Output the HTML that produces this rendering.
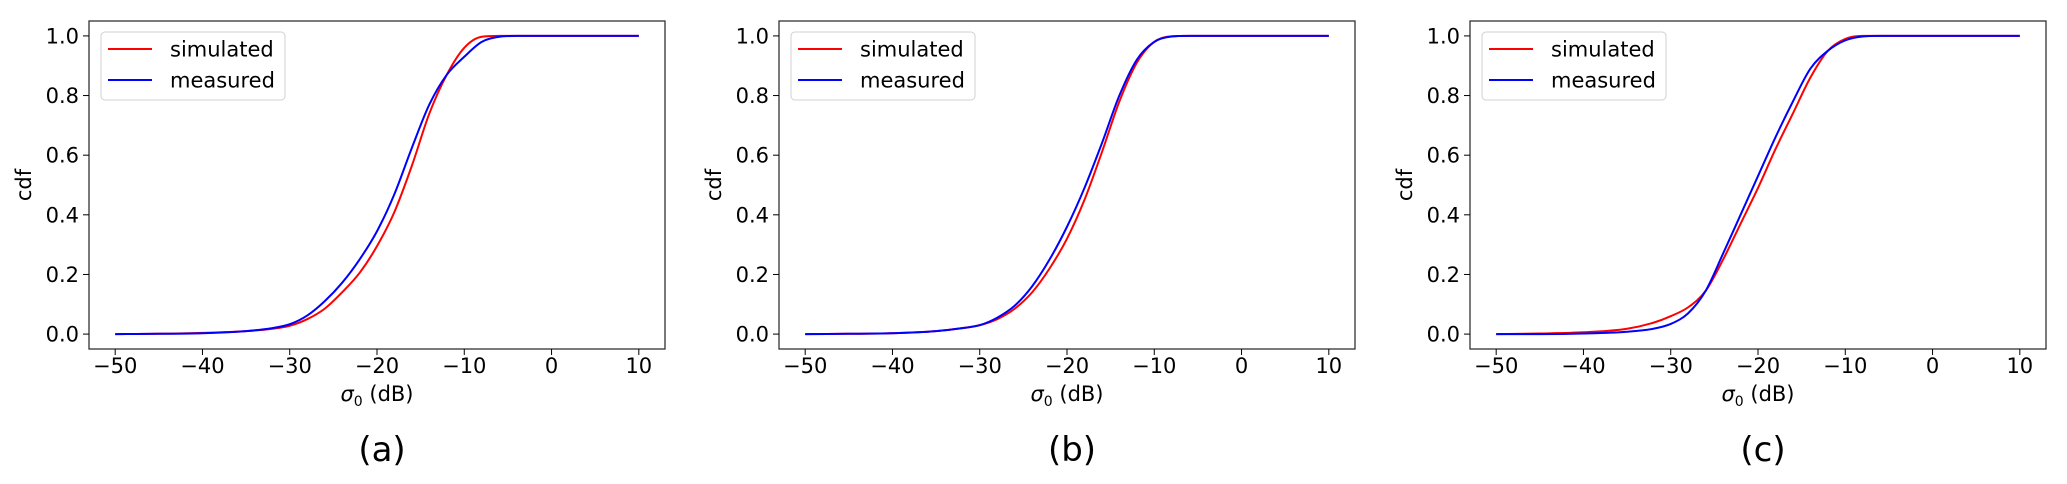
<!DOCTYPE html>
<html><head><meta charset="utf-8"><style>
html,body{margin:0;padding:0;background:#fff;}
svg{display:block;font-family:"DejaVu Sans","Liberation Sans",sans-serif;}
</style></head><body>
<svg id="fig" width="2067" height="484" viewBox="0 0 2067 484" xmlns="http://www.w3.org/2000/svg"></svg>
<script>
const xVals = [-50,-45,-40,-35,-32,-30,-28,-26,-24,-22,-20,-18,-16,-14,-12,-10,-8,-6,-4,0,5,10];
const simA = [0,0.001,0.004,0.01,0.018,0.028,0.05,0.085,0.14,0.205,0.295,0.41,0.565,0.74,0.87,0.96,0.997,1,1,1,1,1];
const measA = [0,0.001,0.003,0.01,0.02,0.033,0.062,0.11,0.172,0.25,0.345,0.47,0.625,0.77,0.87,0.93,0.98,0.997,1,1,1,1];
const simB = [0,0.001,0.003,0.01,0.02,0.03,0.05,0.085,0.14,0.22,0.32,0.45,0.61,0.78,0.91,0.98,0.999,1,1,1,1,1];
const measB = [0,0.001,0.003,0.01,0.02,0.03,0.055,0.095,0.16,0.25,0.36,0.49,0.64,0.80,0.92,0.98,0.998,1,1,1,1,1];
const simC = [0,0.002,0.006,0.018,0.038,0.06,0.09,0.145,0.25,0.37,0.49,0.62,0.74,0.86,0.95,0.99,1,1,1,1,1,1];
const measC = [0,0,0.002,0.008,0.018,0.034,0.07,0.145,0.27,0.40,0.53,0.66,0.78,0.89,0.95,0.985,0.998,1,1,1,1,1];
const xTicks = [-50,-40,-30,-20,-10,0,10];
const xTickLabels = ["\u221250","\u221240","\u221230","\u221220","\u221210","0","10"];
const yTicks = [0,0.2,0.4,0.6,0.8,1.0];
const yTickLabels = ["0.0","0.2","0.4","0.6","0.8","1.0"];
const panelLabels = ["(a)","(b)","(c)"];
const panelLefts = [89,779,1470];

const NS="http://www.w3.org/2000/svg";
const svg=document.getElementById('fig');
function mk(tag,attrs,parent){const e=document.createElementNS(NS,tag);for(const k in attrs)e.setAttribute(k,attrs[k]);(parent||svg).appendChild(e);return e;}

const W=576,H=328,TOP=21;
function pathFor(xs,ys,sx,sy){
  const n=xs.length,d=[],m=[];
  for(let i=0;i<n-1;i++)d.push((ys[i+1]-ys[i])/(xs[i+1]-xs[i]));
  m[0]=d[0];m[n-1]=d[n-2];
  for(let i=1;i<n-1;i++)m[i]=(d[i-1]*d[i]<=0)?0:(d[i-1]+d[i])/2;
  for(let i=0;i<n-1;i++){if(d[i]===0){m[i]=0;m[i+1]=0;continue;}const a=m[i]/d[i],b=m[i+1]/d[i],s=a*a+b*b;if(s>9){const t=3/Math.sqrt(s);m[i]=t*a*d[i];m[i+1]=t*b*d[i];}}
  let p='M'+sx(xs[0]).toFixed(2)+','+sy(ys[0]).toFixed(2);
  for(let i=0;i<n-1;i++){const h=xs[i+1]-xs[i];
    p+=' C'+sx(xs[i]+h/3).toFixed(2)+','+sy(ys[i]+m[i]*h/3).toFixed(2)+' '+sx(xs[i+1]-h/3).toFixed(2)+','+sy(ys[i+1]-m[i+1]*h/3).toFixed(2)+' '+sx(xs[i+1]).toFixed(2)+','+sy(ys[i+1]).toFixed(2);}
  return p;
}
const series=[[simA,measA],[simB,measB],[simC,measC]];
panelLabels.forEach((lab,pi)=>{
  const L=panelLefts[pi];
  const g=mk('g',{});
  
  
  const sx=v=>L+W*(v+53)/66;
  const sy=v=>TOP+H-H*(v+0.05)/1.1;
  const cp=mk('clipPath',{id:'clip'+pi},g);mk('rect',{x:L,y:TOP,width:W,height:H},cp);
  const red=mk('path',{d:pathFor(xVals,series[pi][0],sx,sy),fill:'none',stroke:'#ff0000','stroke-width':2,'clip-path':'url(#clip'+pi+')'},g);
  
  
  const blue=mk('path',{d:pathFor(xVals,series[pi][1],sx,sy),fill:'none',stroke:'#0000ff','stroke-width':2,'clip-path':'url(#clip'+pi+')'},g);
  
  
  const frame=mk('rect',{x:L,y:TOP,width:W,height:H,fill:'none',stroke:'#333','stroke-width':1.3},g);
  
  
  xTicks.forEach((t,i)=>{
    mk('line',{x1:sx(t),x2:sx(t),y1:TOP+H,y2:TOP+H+6,stroke:'#000','stroke-width':1},g);
    const tx=mk('text',{x:sx(t),y:373,'font-size':21,'text-anchor':'middle',fill:'#000'},g);
    tx.textContent=xTickLabels[i];
    
    
  });
  yTicks.forEach((t,i)=>{
    mk('line',{x1:L-6,x2:L,y1:sy(t),y2:sy(t),stroke:'#000','stroke-width':1},g);
    const tx=mk('text',{x:L-10,y:sy(t)+7.5,'font-size':21,'text-anchor':'end',fill:'#000'},g);
    tx.textContent=yTickLabels[i];
    
    
  });
  const xl=mk('text',{x:L+W/2,y:401,'font-size':21,'text-anchor':'middle',fill:'#000'},g);
  xl.innerHTML='<tspan font-style="italic">σ</tspan><tspan font-size="14" dy="5">0</tspan><tspan dy="-5"> (dB)</tspan>';
  
  
  const yl=mk('text',{x:0,y:0,'font-size':21,'text-anchor':'middle',fill:'#000',transform:'translate('+(L-58)+','+(TOP+H/2)+') rotate(-90)'},g);
  yl.textContent='cdf';
  
  
  const cap=mk('text',{x:L+W/2+5,y:461,'font-size':34,'text-anchor':'middle',fill:'#000'},g);
  cap.textContent=lab;
  
  
  const lg=mk('g',{},g);
  
  
  mk('rect',{x:L+12,y:32,width:184,height:68,rx:4,fill:'#fff','fill-opacity':0.8,stroke:'#d0d0d0','stroke-width':1},lg);
  [['simulated','#ff0000',49],['measured','#0000ff',80]].forEach(([n,c,y])=>{
    const e=mk('g',{},lg);
    
    
    mk('line',{x1:L+19,x2:L+63,y1:y,y2:y,stroke:c,'stroke-width':2},e);
    const t=mk('text',{x:L+81,y:y+7.5,'font-size':21,fill:'#000'},e);
    t.textContent=n;
  });
});
</script>
</body></html>
